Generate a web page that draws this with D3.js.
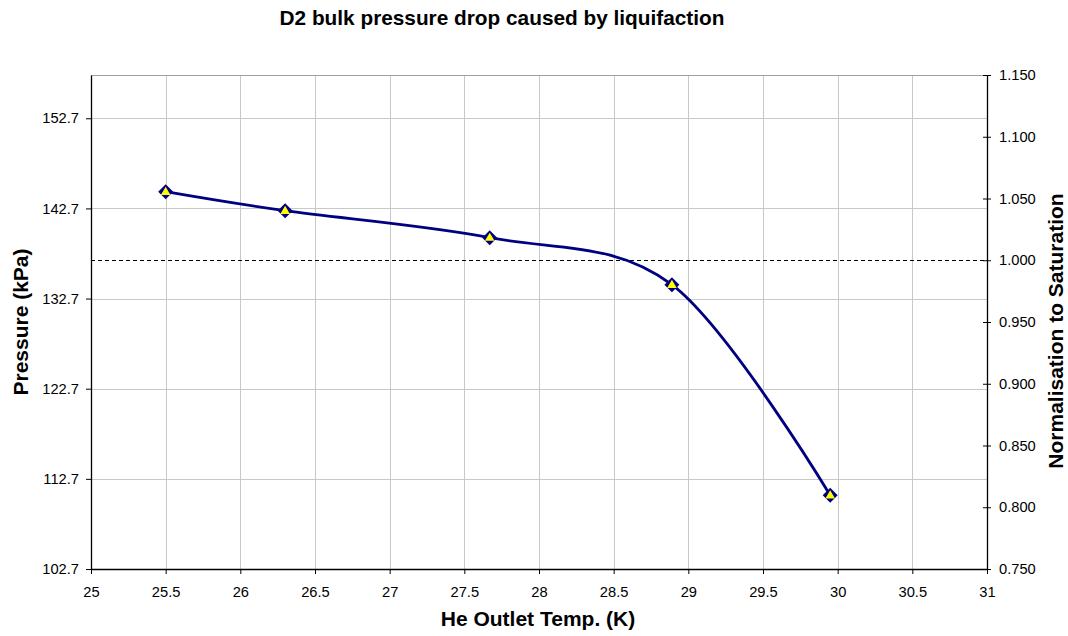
<!DOCTYPE html>
<html>
<head>
<meta charset="utf-8">
<script src="https://cdn.jsdelivr.net/npm/d3@7"></script>
<style>
  body { margin: 0; background: #fff; }
  text { font-family: "Liberation Sans", Arial, sans-serif; }
</style>
</head>
<body>
<div id="viz"></div>
<script>
// He outlet temperature (K) and pressure normalised to saturation
const temps = [25.5, 26.3, 27.67, 28.89, 29.95];
const norm = [1.0555, 1.0401, 1.0183, 0.9802, 0.8097];
const xTicks = d3.range(25, 31.01, 0.5);
const leftTicks = [102.7, 112.7, 122.7, 132.7, 142.7, 152.7];
const rightTicks = [0.75, 0.8, 0.85, 0.9, 0.95, 1.0, 1.05, 1.1, 1.15];
const saturation = 1.0;

const LAYOUT = {
  width: 1068,
  height: 636,
  margins: { left: 91, right: 81, top: 75, bottom: 67 }
}

const W = LAYOUT.width, H = LAYOUT.height, m = LAYOUT.margins;

const svg = d3.select("#viz").append("svg")
  .attr("width", W)
  .attr("height", H);

const x = d3.scaleLinear().domain([25, 31]).range([m.left, W - m.right]);
const yL = d3.scaleLinear().domain([102.7, 157.5]).range([H - m.bottom, m.top]);
const yR = d3.scaleLinear().domain([0.75, 1.15]).range([H - m.bottom, m.top]);

// grid
const grid = svg.append("g").attr("stroke", "#c8c8c8").attr("stroke-width", 1);
grid.selectAll(".vg")
  .data(xTicks.filter(t => t > 25 && t < 31))
  .enter().append("line")
  .attr("x1", d => Math.round(x(d)) + 0.5).attr("x2", d => Math.round(x(d)) + 0.5)
  .attr("y1", m.top).attr("y2", H - m.bottom);
grid.selectAll(".hg")
  .data(leftTicks.slice(1))
  .enter().append("line")
  .attr("x1", m.left).attr("x2", W - m.right)
  .attr("y1", d => Math.round(yL(d)) + 0.5).attr("y2", d => Math.round(yL(d)) + 0.5);
grid.append("line")
  .attr("x1", m.left).attr("x2", W - m.right)
  .attr("y1", m.top + 0.5).attr("y2", m.top + 0.5)
  .attr("stroke", "#a0a0a0");

// saturation line
svg.append("line")
  .attr("x1", m.left).attr("x2", W - m.right)
  .attr("y1", Math.round(yR(saturation)) + 0.5).attr("y2", Math.round(yR(saturation)) + 0.5)
  .attr("stroke", "#000").attr("stroke-width", 1)
  .attr("stroke-dasharray", "4,3");

// axes
function styleAxis(g) {
  g.select(".domain").attr("stroke", "#000").attr("stroke-width", 1.3);
  g.selectAll(".tick line").attr("stroke", "#000");
  g.selectAll(".tick text").attr("fill", "#000").style("font-size", "14.7px")
    .style("font-family", "'Liberation Sans', Arial, sans-serif");
}

svg.append("g")
  .attr("transform", `translate(0,${H - m.bottom})`)
  .call(d3.axisBottom(x).tickValues(xTicks).tickFormat(d3.format("")).tickSizeInner(5).tickSizeOuter(0).tickPadding(13))
  .call(styleAxis);

svg.append("g")
  .attr("transform", `translate(${m.left},0)`)
  .call(d3.axisLeft(yL).tickValues(leftTicks).tickFormat(d3.format(".1f")).tickSizeInner(5).tickSizeOuter(0).tickPadding(7))
  .call(styleAxis);

const gR = svg.append("g")
  .attr("transform", `translate(${W - m.right},0)`)
  .call(d3.axisRight(yR).tickValues(rightTicks).tickFormat(d3.format(".3f")).tickSizeInner(4).tickSizeOuter(0).tickPadding(8))
  .call(styleAxis);
gR.selectAll(".tick line").attr("x1", -4);

// series
const pts = temps.map((t, i) => [x(t), yR(norm[i])]);
svg.append("path")
  .datum(pts)
  .attr("fill", "none")
  .attr("stroke", "#000080")
  .attr("stroke-width", 2.8)
  .attr("d", d3.line().curve(d3.curveCardinal.tension(0)));

const mk = svg.append("g").selectAll(".marker")
  .data(pts)
  .enter().append("g")
  .attr("transform", d => `translate(${d[0]},${d[1]})`);
mk.append("path")
  .attr("d", "M0,-7.5L7.5,0L0,7.5L-7.5,0Z")
  .attr("fill", "#000080");
mk.append("path")
  .attr("d", "M0,-5L4.8,3.2L-4.8,3.2Z")
  .attr("fill", "#ffff00");

// titles
svg.append("text")
  .attr("x", 502).attr("y", 25)
  .attr("text-anchor", "middle")
  .style("font-size", "20.8px").style("font-weight", "bold")
  .text("D2 bulk pressure drop caused by liquifaction");

svg.append("text")
  .attr("x", 538).attr("y", 626)
  .attr("text-anchor", "middle")
  .style("font-size", "21px").style("font-weight", "bold")
  .text("He Outlet Temp. (K)");

svg.append("text")
  .attr("transform", "translate(28,322) rotate(-90)")
  .attr("text-anchor", "middle")
  .style("font-size", "21px").style("font-weight", "bold")
  .text("Pressure (kPa)");

svg.append("text")
  .attr("transform", "translate(1063,331) rotate(-90)")
  .attr("text-anchor", "middle")
  .style("font-size", "21px").style("font-weight", "bold")
  .text("Normalisation to Saturation");
</script>
</body>
</html>
